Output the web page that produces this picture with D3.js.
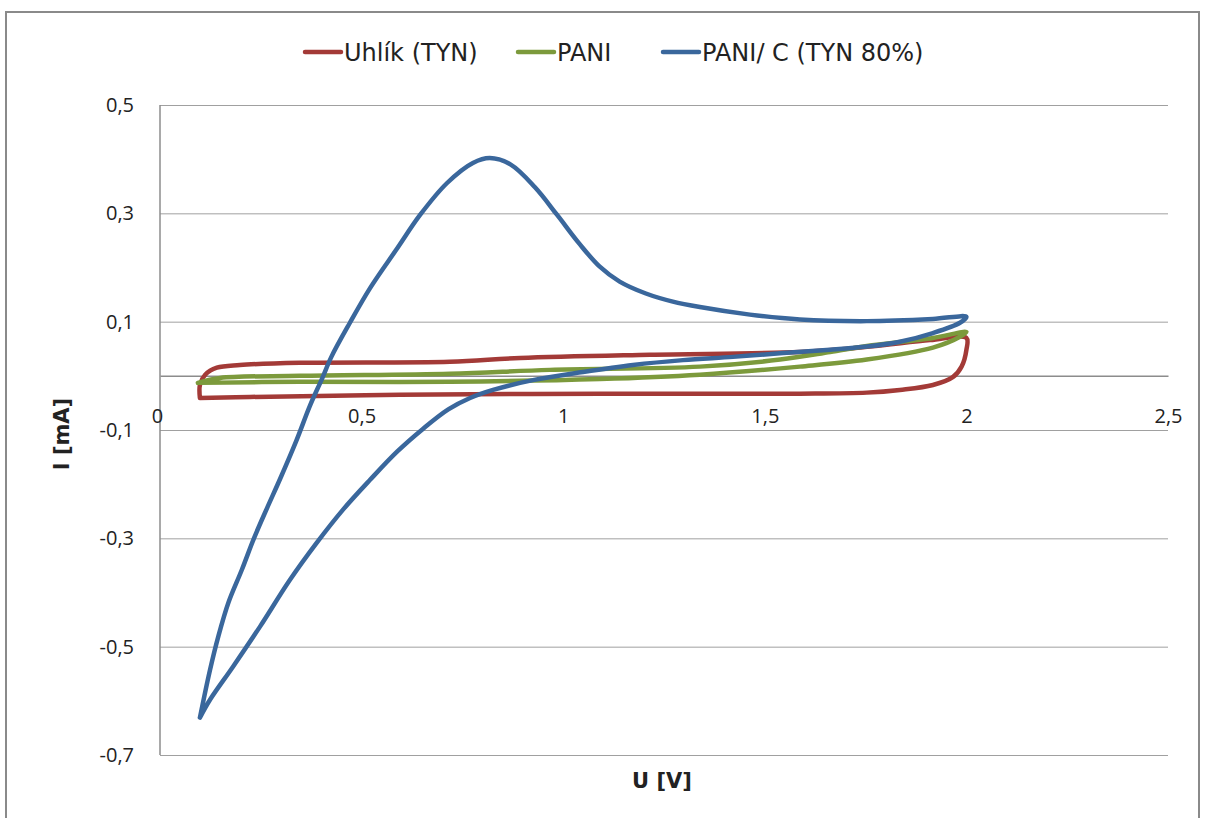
<!DOCTYPE html>
<html>
<head>
<meta charset="utf-8">
<title>CV</title>
<script src="https://cdn.jsdelivr.net/npm/d3@7"></script>
<style>
body { margin:0; background:#fff; font-family:"Open Sans", sans-serif; }
text { fill:#222; }
</style>
</head>
<body>
<svg id="chart" width="1205" height="818"></svg>
<script>
// series names + colors
var names = ['Uhlík (TYN)', 'PANI', 'PANI/ C (TYN 80%)'];
var colors = ['#a33a37', '#7c9a3c', '#3a679c'];
var yTicks = [0.5, 0.3, 0.1, -0.1, -0.3, -0.5, -0.7];
var xTicks = [0, 0.5, 1, 1.5, 2, 2.5];

// [U, I] pairs, loop order
var uhlik = [[0.099,-0.041],[0.099,-0.017],[0.112,0.002],[0.141,0.015],[0.198,0.020],[0.347,0.024],
  [0.719,0.026],[0.893,0.033],[1.215,0.039],[1.587,0.044],[1.761,0.054],[1.910,0.066],[2.0,0.070],
  [2.0,0.048],[1.988,0.017],[1.967,-0.002],[1.917,-0.017],[1.835,-0.026],[1.753,-0.031],[1.587,-0.033],
  [1.091,-0.033],[0.595,-0.035],[0.223,-0.039],[0.099,-0.041]];
var pani = [[0.094,-0.013],[0.149,-0.004],[0.347,0.0],[0.719,0.004],[0.967,0.011],[1.339,0.017],
  [1.538,0.030],[1.662,0.044],[1.753,0.055],[1.917,0.070],[2.0,0.081],
  [1.984,0.072],[1.917,0.052],[1.753,0.030],[1.587,0.017],[1.339,0.002],[1.091,-0.006],
  [0.719,-0.011],[0.347,-0.011],[0.094,-0.013]];
var paniC = [[0.099,-0.631],[0.124,-0.543],[0.145,-0.480],[0.170,-0.418],[0.203,-0.358],[0.233,-0.300],
  [0.265,-0.245],[0.298,-0.190],[0.338,-0.120],[0.372,-0.055],[0.402,-0.005],[0.425,0.035],
  [0.471,0.098],[0.521,0.162],[0.588,0.235],[0.645,0.297],[0.712,0.356],[0.776,0.393],[0.818,0.402],
  [0.870,0.390],[0.930,0.348],[0.985,0.297],[1.040,0.244],[1.090,0.202],[1.140,0.174],[1.205,0.152],
  [1.272,0.137],[1.339,0.127],[1.463,0.113],[1.587,0.104],[1.753,0.101],[1.917,0.105],[2.0,0.109],
  [1.984,0.098],[1.917,0.079],[1.835,0.063],[1.753,0.054],[1.662,0.048],[1.545,0.042],[1.421,0.035],
  [1.297,0.029],[1.173,0.020],[1.049,0.007],[0.925,-0.008],[0.826,-0.026],[0.769,-0.041],[0.715,-0.062],
  [0.652,-0.098],[0.588,-0.140],[0.521,-0.192],[0.454,-0.247],[0.389,-0.308],[0.322,-0.377],
  [0.248,-0.463],[0.181,-0.537],[0.124,-0.598],[0.099,-0.631]];
var series = [uhlik, pani, paniC];

var svg = d3.select('#chart');
var x = d3.scaleLinear().domain([0, 2.5]).range([160, 1168]);
var y = d3.scaleLinear().domain([-0.7, 0.5]).range([755, 105]);
var fmt = function(d){ return String(d).replace('.', ','); };
var fs = '20px';
var wide = '"DejaVu Sans", sans-serif';

// outer frame
svg.append('rect').attr('x', 6).attr('y', 12).attr('width', 1193).attr('height', 830)
  .attr('fill', 'none').attr('stroke', '#8a8a8a').attr('stroke-width', 2);

// gridlines + y labels
var ya = svg.append('g').attr('transform', 'translate(160,0)')
  .call(d3.axisLeft(y).tickValues(yTicks).tickSize(-1008).tickPadding(26).tickFormat(fmt));
ya.select('.domain').remove();
ya.selectAll('line').attr('stroke', '#a0a0a0');
ya.selectAll('text').style('font-size', fs).style('font-family', '"Open Sans", sans-serif').attr('fill', '#222');
svg.append('line').attr('x1', 160).attr('x2', 160).attr('y1', 105).attr('y2', 755)
  .attr('stroke', '#8c8c8c').attr('stroke-width', 1.5);

// x axis at I = 0
var xa = svg.append('g').attr('transform', 'translate(0,' + y(0) + ')')
  .call(d3.axisBottom(x).tickValues(xTicks).tickSize(0).tickPadding(33).tickFormat(fmt));
xa.select('.domain').attr('stroke', '#8c8c8c').attr('stroke-width', 1.5);
xa.selectAll('text').style('font-size', fs).style('font-family', '"Open Sans", sans-serif').attr('fill', '#222');
xa.selectAll('.tick').filter(function(d){ return d === 0; }).select('text').attr('dx', -3);

// curves
var line = d3.line().x(function(d){ return x(d[0]); }).y(function(d){ return y(d[1]); })
  .curve(d3.curveCatmullRom.alpha(0.5));
svg.selectAll('path.s').data(series).enter().append('path').attr('class', 's')
  .attr('d', line).attr('fill', 'none').attr('stroke', function(d, i){ return colors[i]; })
  .attr('stroke-width', 4.5).attr('stroke-linejoin', 'round').attr('stroke-linecap', 'round');

// axis titles
svg.append('text').attr('transform', 'translate(69,434) rotate(-90)').attr('text-anchor', 'middle')
  .style('font-size', '21px').style('font-family', wide).style('font-weight', 'bold').text('I [mA]');
svg.append('text').attr('x', 662).attr('y', 788).attr('text-anchor', 'middle')
  .style('font-size', '21px').style('font-family', wide).style('font-weight', 'bold').text('U [V]');

// legend
var lx = [305, 518, 663];
var lg = svg.selectAll('g.lg').data(names).enter().append('g').attr('class', 'lg')
  .attr('transform', function(d, i){ return 'translate(' + lx[i] + ',52)'; });
lg.append('line').attr('x1', 0).attr('x2', 36).attr('stroke', function(d, i){ return colors[i]; })
  .attr('stroke-width', 4.5).attr('stroke-linecap', 'round');
lg.append('text').attr('x', 39).attr('dy', '0.36em').style('font-size', '24px').style('font-family', wide)
  .text(function(d){ return d; });
</script>
</body>
</html>
